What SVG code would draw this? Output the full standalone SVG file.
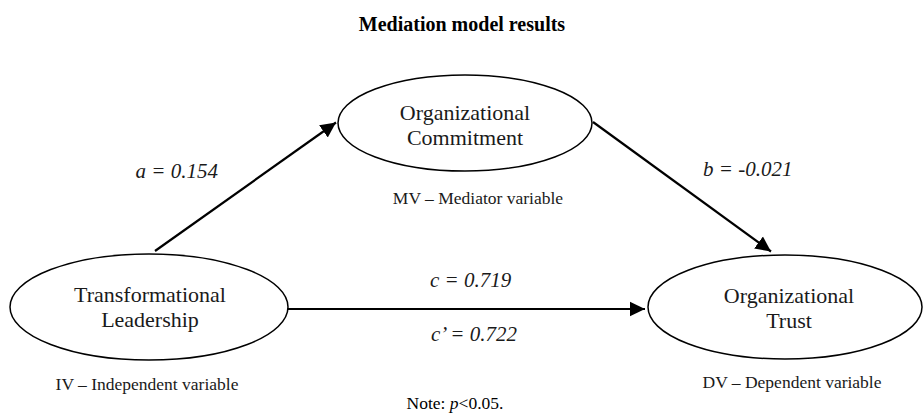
<svg xmlns="http://www.w3.org/2000/svg" width="924" height="413" viewBox="0 0 924 413">
<style>
.bg{fill:#fff}
.node ellipse{fill:#fff;stroke:#000;stroke-width:1.5}
.lbl{font-family:"Liberation Serif",serif;font-size:22px;fill:#1a1a1a;text-anchor:middle}
.sub{font-family:"Liberation Serif",serif;font-size:17.5px;fill:#1a1a1a;text-anchor:middle}
.coef{font-family:"Liberation Serif",serif;font-size:21px;font-style:italic;fill:#1a1a1a}
.title{font-family:"Liberation Serif",serif;font-size:20px;font-weight:bold;fill:#000;text-anchor:middle}
.note{font-family:"Liberation Serif",serif;font-size:17.5px;fill:#000;text-anchor:middle}
.conn line{stroke:#000;stroke-width:2.2}
</style>
<defs>
<marker id="arr" markerWidth="8" markerHeight="8" refX="7" refY="4" orient="auto" markerUnits="strokeWidth"><path d="M0,0.6 L7,4 L0,7.4 Z" fill="#000"/></marker>
</defs>
<rect class="bg" x="0" y="0" width="924" height="413"/>
<text class="title" x="462" y="31">Mediation model results</text>
<g id="connectors" class="conn">
<line x1="155" y1="251" x2="336" y2="122.5" marker-end="url(#arr)"/>
<line x1="593" y1="122" x2="771" y2="251.5" marker-end="url(#arr)"/>
<line x1="288" y1="309" x2="645" y2="309" marker-end="url(#arr)"/>
</g>
<g id="node-mv" class="node">
<ellipse cx="465" cy="123" rx="127" ry="48"/>
<text class="lbl" x="465" y="120">Organizational</text>
<text class="lbl" x="465" y="145">Commitment</text>
<text class="sub" x="478" y="204">MV – Mediator variable</text>
</g>
<g id="node-iv" class="node">
<ellipse cx="149" cy="307" rx="139" ry="53"/>
<text class="lbl" x="150" y="302">Transformational</text>
<text class="lbl" x="150" y="327">Leadership</text>
<text class="sub" x="147" y="390">IV – Independent variable</text>
</g>
<g id="node-dv" class="node">
<ellipse cx="785" cy="307" rx="137" ry="52"/>
<text class="lbl" x="789" y="303">Organizational</text>
<text class="lbl" x="789" y="328">Trust</text>
<text class="sub" x="792" y="388">DV – Dependent variable</text>
</g>
<g id="labels">
<text class="coef" x="218" y="178" text-anchor="end">a = 0.154</text>
<text class="coef" x="703" y="176">b = -0.021</text>
<text class="coef" x="430" y="287">c = 0.719</text>
<text class="coef" x="431" y="341">c’ = 0.722</text>
<text class="note" x="455" y="409">Note: <tspan font-style="italic">p</tspan>&lt;0.05.</text>
</g>
</svg>
